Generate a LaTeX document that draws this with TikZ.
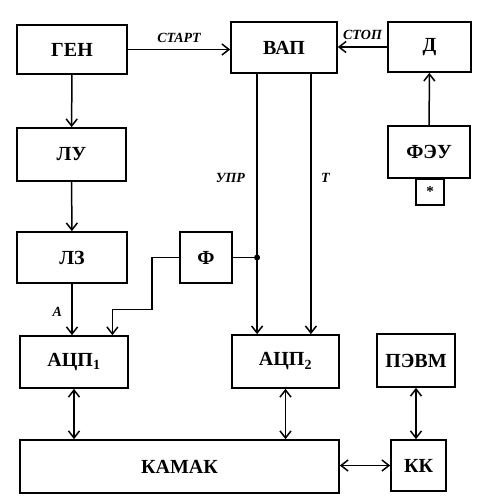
\documentclass[tikz,border=0pt]{standalone}
\usepackage{fontspec}
\setmainfont{Liberation Serif}
\usetikzlibrary{arrows.meta,calc}
\tikzset{
  blok/.style={draw, line width=1.7pt, inner sep=0pt, font=\fontsize{20}{22}\selectfont\bfseries},
  strelka/.style={line width=1.5pt, -{Straight Barb[length=7pt,width=11pt,line width=1.5pt]}},
  dvustr/.style={line width=1.5pt, {Straight Barb[length=7pt,width=11pt,line width=1.5pt]}-{Straight Barb[length=7pt,width=11pt,line width=1.5pt]}},
  metka/.style={font=\fontsize{14}{15}\selectfont\bfseries\itshape}
}
\begin{document}
\begin{tikzpicture}[x=1pt,y=-1pt]
	\useasboundingbox (0,0) rectangle (493,503);
	% bloki
	\node[blok, minimum width=110pt, minimum height=49pt] (gen) at (72,49.5) {ГЕН};
	\node[blok, minimum width=106pt, minimum height=51pt] (vap) at (284,47.5) {ВАП};
	\node[blok, minimum width=83pt, minimum height=50pt] (d) at (429.5,47) {Д};
	\node[blok, minimum width=82pt, minimum height=52pt] (feu) at (429,152) {ФЭУ};
	\node[draw, line width=1.5pt, minimum width=28pt, minimum height=26pt, inner sep=0pt, anchor=north, font=\fontsize{15}{15}\selectfont\bfseries] (zvezda) at (430,178) {*};
	\node[blok, minimum width=109pt, minimum height=53pt] (lu) at (71.5,154.5) {ЛУ};
	\node[blok, minimum width=110pt, minimum height=51pt] (lz) at (72,257.5) {ЛЗ};
	\node[blok, minimum width=52pt, minimum height=51pt] (f) at (206,257.5) {Ф};
	\node[blok, minimum width=108pt, minimum height=52pt] (acp1) at (74,362) {АЦП$_{\mathbf 1}$};
	\node[blok, minimum width=107pt, minimum height=53pt] (acp2) at (285.5,361.5) {АЦП$_{\mathbf 2}$};
	\node[blok, minimum width=78pt, minimum height=53pt] (pevm) at (416,360.5) {ПЭВМ};
	\node[blok, minimum width=319pt, minimum height=53pt] (kamak) at (179.5,466.5) {КАМАК};
	\node[blok, minimum width=55pt, minimum height=51pt] (kk) at (418.5,465.5) {КК};
	% svyazi
	\draw[strelka] (gen.east) -- (gen.east -| vap.west) node[metka, midway, above=3pt] {СТАРТ};
	\draw[strelka] (d.west) -- (d.west -| vap.east) node[metka, midway, above=3pt] {СТОП};
	\draw[strelka] (feu) -- (d);
	\draw[strelka] (gen) -- (lu);
	\draw[strelka] (lu) -- (lz);
	\draw[strelka] (lz.south) -- (lz.south |- acp1.north) node[metka, pos=0.55, left=6pt] {А};
	\coordinate (upr) at ($(vap.south west)!.25!(vap.south east)$);
	\coordinate (t) at ($(vap.south west)!.75!(vap.south east)$);
	\draw[strelka] (upr) -- (upr |- acp2.north) node[metka, pos=0.4, left=8pt] {УПР};
	\draw[strelka] (t) -- (t |- acp2.north) node[metka, pos=0.4, right=6pt] {Т};
	\coordinate (tochka) at (upr |- f.east);
	\draw[line width=1.5pt] (f.east) -- (tochka);
	\fill (tochka) circle (3pt);
	\coordinate (a1vh) at ($(acp1.north west)!.85!(acp1.north east)$);
	\draw[strelka] (f.west) -| ++(-27,52) -| (a1vh);
	\draw[dvustr] (acp1.south) -- (acp1.south |- kamak.north);
	\draw[dvustr] (acp2.south) -- (acp2.south |- kamak.north);
	\draw[dvustr] (kk.west -| kamak.east) -- (kk.west);
	\draw[dvustr] (pevm.south) -- (pevm.south |- kk.north);
\end{tikzpicture}
\end{document}
